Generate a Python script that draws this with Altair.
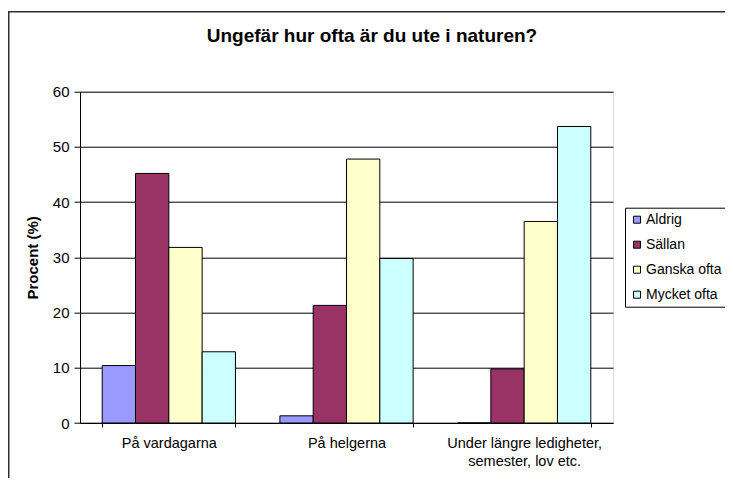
import altair as alt
import pandas as pd

categories = ["På vardagarna", "På helgerna", "Under längre ledigheter,|semester, lov etc."]
series = ["Aldrig", "Sällan", "Ganska ofta", "Mycket ofta"]
aldrig = [10.4, 1.3, 0.0]
sallan = [45.2, 21.3, 9.8]
ganska = [31.8, 47.8, 36.5]
mycket = [12.9, 29.8, 53.7]
colors = ["#9999FF", "#993366", "#FFFFCC", "#CCFFFF"]
y_ticks = [0, 10, 20, 30, 40, 50, 60]

rows = []
for s, vals in zip(series, [aldrig, sallan, ganska, mycket]):
    for c, v in zip(categories, vals):
        rows.append({"kategori": c, "serie": s, "procent": v})
df = pd.DataFrame(rows)

FONT = "Liberation Sans"

bars = alt.Chart(df).mark_bar(stroke="black", strokeWidth=1).encode(
    x=alt.X(
        "kategori:N",
        sort=categories,
        scale=alt.Scale(paddingInner=0.25, paddingOuter=0.125),
        axis=alt.Axis(
            title=None,
            labelExpr="split(datum.label, '|')",
            labelAngle=0,
            labelFontSize=14.5,
            labelLineHeight=18,
            labelPadding=9,
            labelColor="black",
            tickBand="extent",
            tickSize=4,
            tickColor="black",
            domainColor="black",
            labelFont=FONT,
        ),
    ),
    xOffset=alt.XOffset("serie:N", sort=series, scale=alt.Scale(domain=series, paddingInner=0, paddingOuter=0)),
    y=alt.Y(
        "procent:Q",
        scale=alt.Scale(domain=[0, 60], nice=False),
        axis=alt.Axis(
            values=y_ticks,
            title="Procent (%)",
            titleFontSize=15,
            titleFontWeight="bold",
            titleFont=FONT,
            titleColor="black",
            titlePadding=12,
            labelFontSize=15,
            labelFont=FONT,
            labelColor="black",
            labelPadding=5,
            tickSize=6,
            tickColor="black",
            domainColor="black",
            grid=True,
            gridColor="black",
            gridWidth=1,
        ),
    ),
    color=alt.Color(
        "serie:N",
        sort=series,
        scale=alt.Scale(domain=series, range=colors),
        legend=alt.Legend(
            title=None,
            orient="none",
            legendX=545,
            legendY=116,
            strokeColor="black",
            fillColor="white",
            padding=5,
            symbolType="square",
            symbolSize=49,
            symbolStrokeColor="black",
            symbolStrokeWidth=1,
            labelFontSize=14,
            labelFont=FONT,
            labelColor="black",
            rowPadding=11,
            labelOffset=2,
        ),
    ),
)

frame = alt.Chart(pd.DataFrame({"f": [0]})).mark_rect(
    fill=None, stroke="#303030", strokeWidth=1.5
).encode(
    x=alt.value(-71.25), x2=alt.value(800), y=alt.value(-80), y2=alt.value(500)
)

chart = alt.layer(bars, frame).properties(
    width=533,
    height=331.3,
    padding={"left": 72, "top": 83.7, "right": 112, "bottom": 55},
    autosize=alt.AutoSizeParams(type="none"),
    title=alt.TitleParams(
        "Ungefär hur ofta är du ute i naturen?",
        fontSize=19,
        fontWeight="bold",
        font=FONT,
        color="black",
        anchor="middle",
        baseline="alphabetic",
        dx=25.5,
        offset=-50,
    ),
).configure_view(
    fill="#C0C0C0", stroke="#808080", strokeWidth=1
).configure(background="white")

chart.save("out.html", embed_options={"renderer": "svg", "actions": False})
